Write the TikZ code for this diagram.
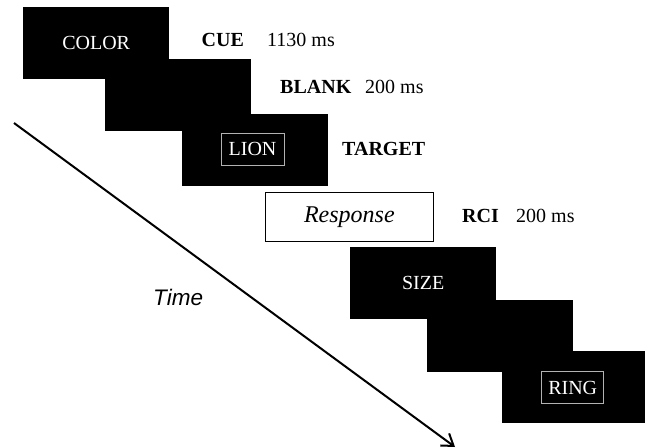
\documentclass[tikz,border=0pt]{standalone}
\usepackage{fontspec}
\setmainfont{Liberation Serif}
\newfontfamily\timefont{Liberation Sans}
\usetikzlibrary{arrows.meta}
\tikzset{
  blackbox/.style={fill=black, draw=none, text=white, minimum width=146pt, minimum height=72pt, inner sep=0pt, anchor=north west, font=\fontsize{20}{24}\selectfont},
  wordframe/.style={draw=gray!60, line width=0.8pt, text=white, inner sep=0pt, minimum height=32pt, font=\fontsize{20}{24}\selectfont},
  lbl/.style={anchor=base west, inner sep=0pt, font=\fontsize{20}{24}\selectfont\bfseries},
  dur/.style={anchor=base west, inner sep=0pt, font=\fontsize{20}{24}\selectfont},
  respbox/.style={draw=black, line width=0.8pt, minimum width=168pt, minimum height=49pt, inner sep=0pt, anchor=north west, font=\fontsize{24}{28}\selectfont\itshape},
  timearrow/.style={line width=2pt, -{Straight Barb[length=11pt,width=15pt]}}
}
\begin{document}
\begin{tikzpicture}[x=1pt,y=-1pt]
\useasboundingbox (0,0) rectangle (645,447);
\begin{scope}
\clip (0,0) rectangle (645,447);
\node[blackbox] (b1) at (23,7) {COLOR};
\node[blackbox] (b2) at (105,59) {};
\node[blackbox] (b3) at (182,114) {};
\node[wordframe, minimum width=63pt] (lion) at (252.5,149) {LION};
\node[respbox] (resp) at (265,192) {Response};
\node[blackbox] (b4) at (350,247) {SIZE};
\node[blackbox] (b5) at (427,300) {};
\node[blackbox] (b6) at (502,351) {};
\node[wordframe, minimum width=62pt] (ring) at (572.7,387.5) {RING};
\end{scope}
\node[lbl] (cue) at (201.5,46) {CUE};
\node[dur] (cued) at (267,46) {1130 ms};
\node[lbl] (blank) at (280,93.5) {BLANK};
\node[dur] (blankd) at (365,93.5) {200 ms};
\node[lbl] (target) at (342,155) {TARGET};
\node[lbl] (rci) at (462,222) {RCI};
\node[dur] (rcid) at (516,222) {200 ms};
\node[anchor=base west, inner sep=0pt, font=\timefont\fontsize{22.5}{26}\selectfont\itshape] (time) at (153,305.5) {Time};
\coordinate (ts) at (14,123);
\coordinate (te) at (455,447);
\draw[timearrow] (ts) -- (te);
\end{tikzpicture}
\end{document}
